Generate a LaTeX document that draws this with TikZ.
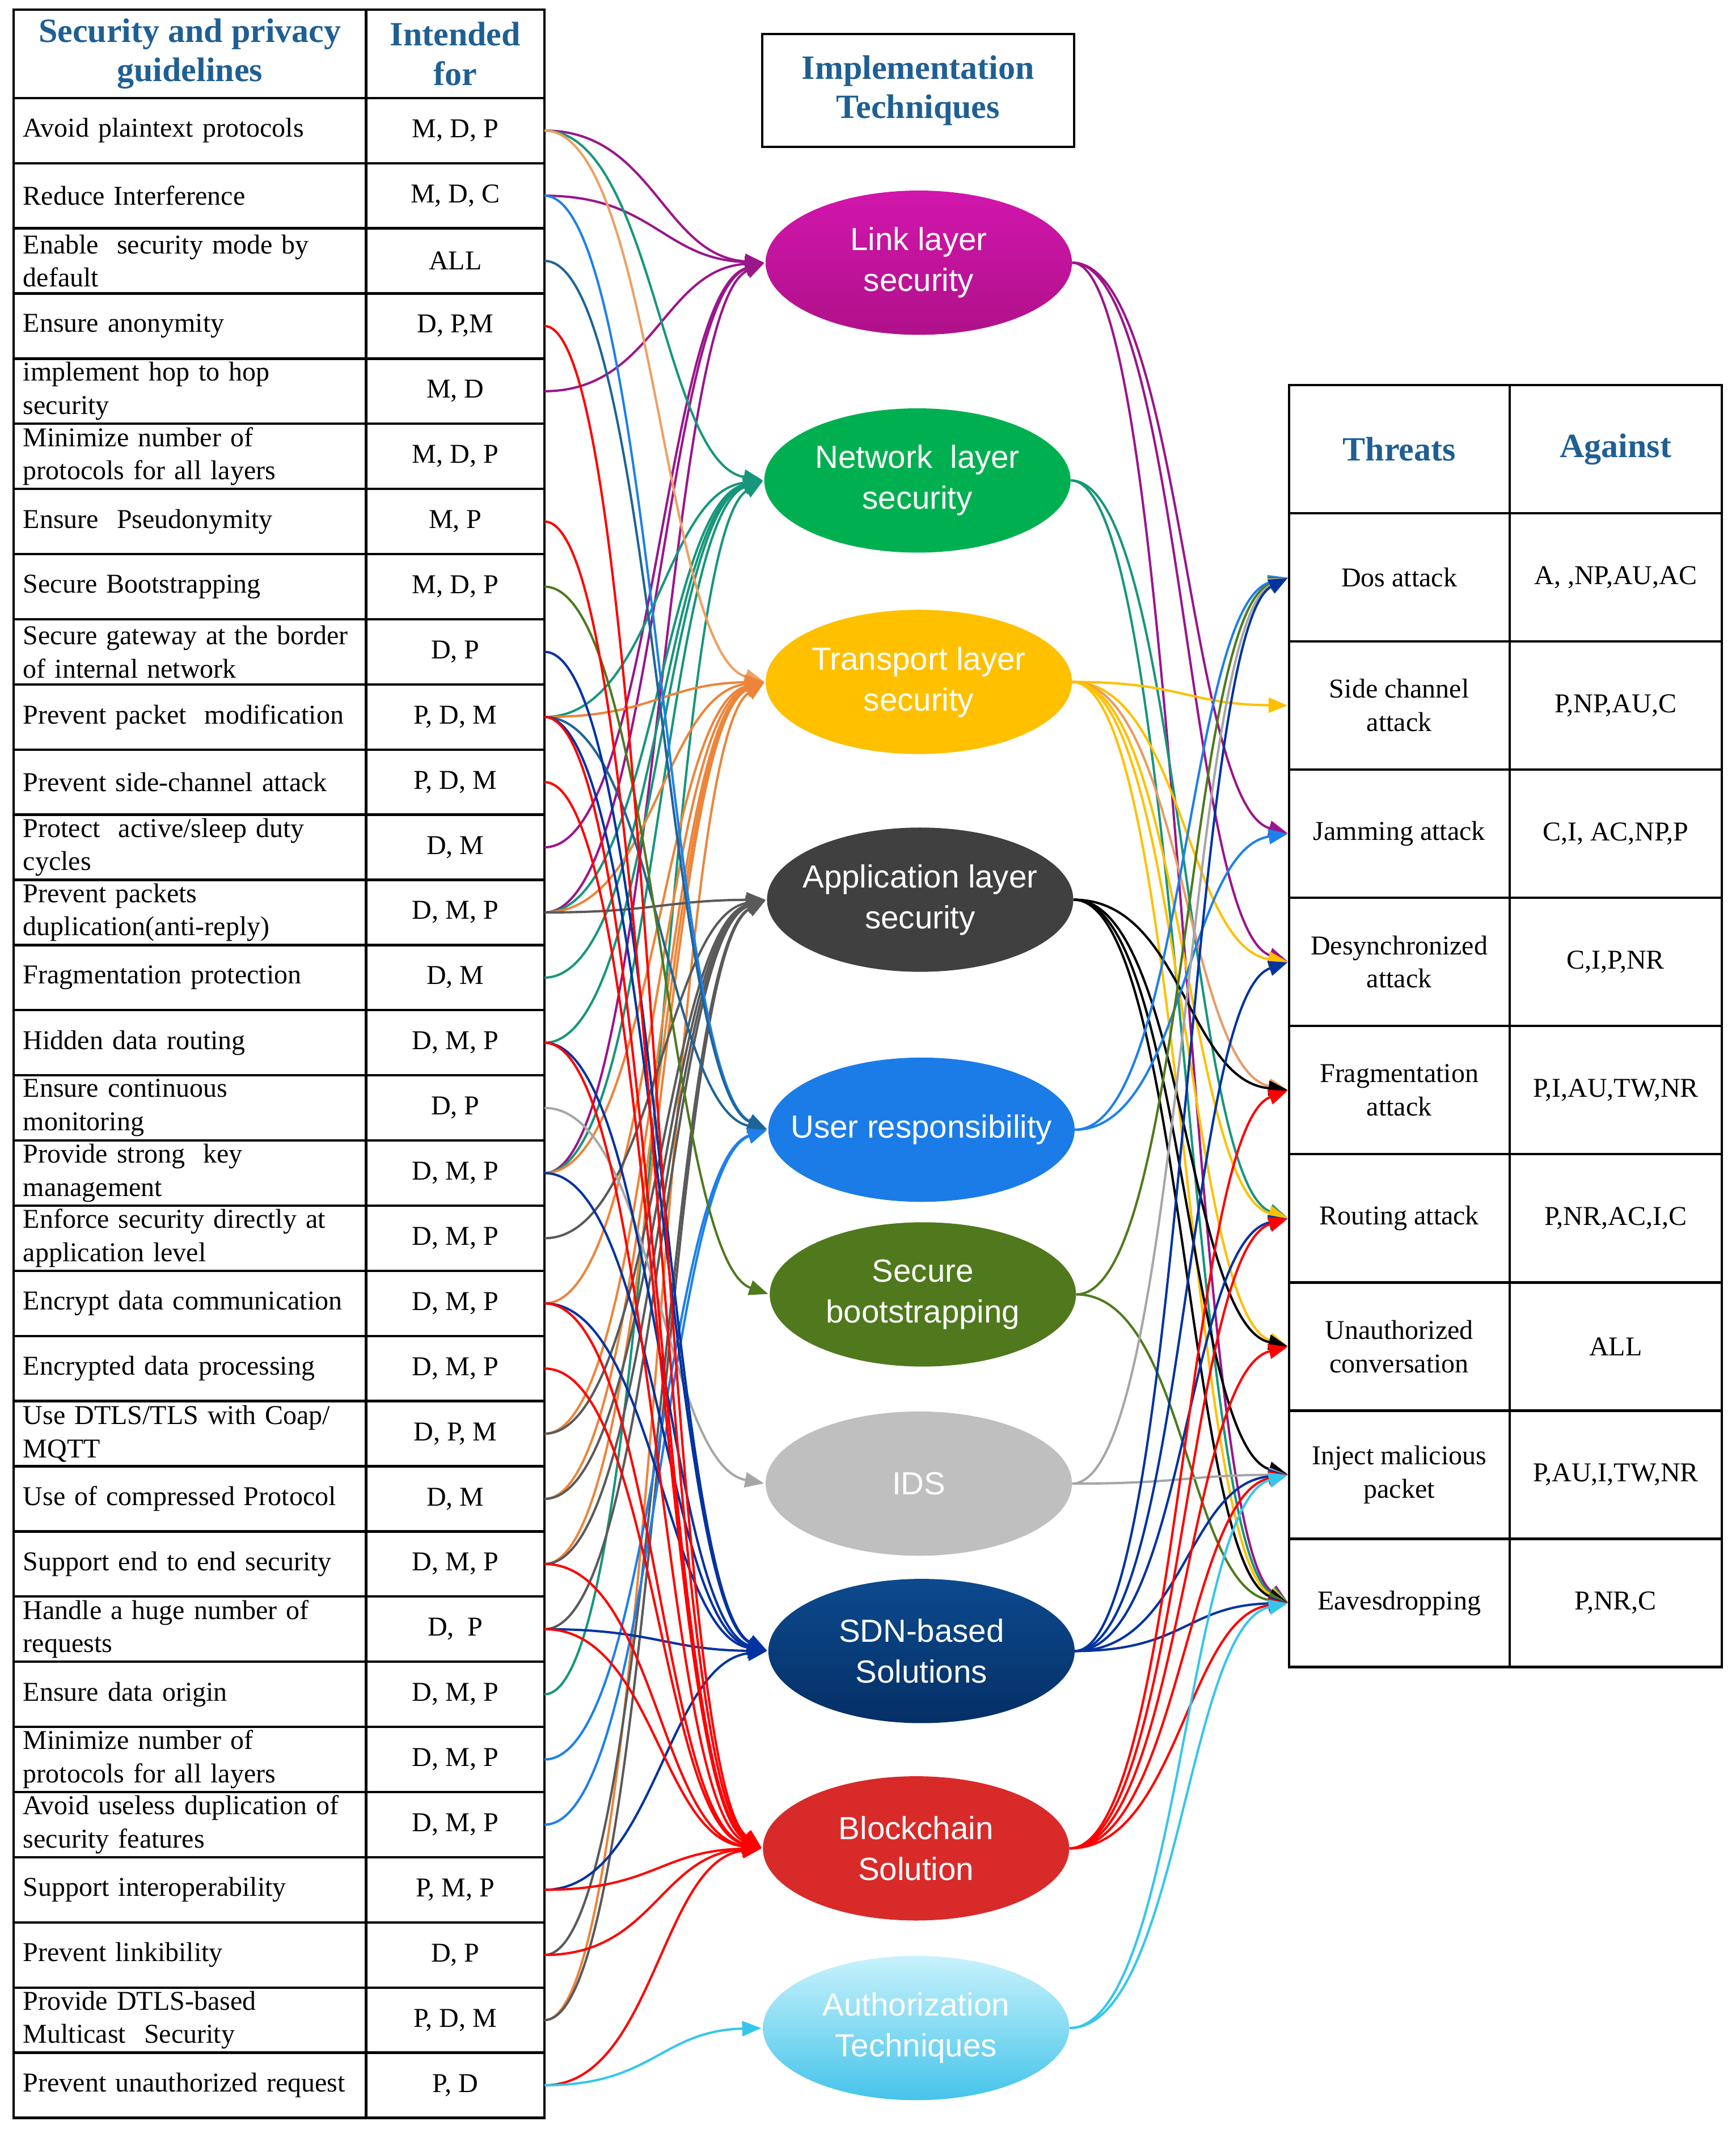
\documentclass[tikz,border=0pt]{standalone}
\usepackage{fontspec}
\setmainfont{Liberation Serif}
\newfontfamily\ovalfont{Liberation Sans}
\usetikzlibrary{positioning,shapes.geometric,arrows.meta,calc}

\definecolor{headblue}{HTML}{1F5F93}
% technique fills
\definecolor{linkfill}{HTML}{D116AC}
\definecolor{linkdark}{HTML}{B0118A}
\definecolor{netfill}{HTML}{00B050}
\definecolor{transfill}{HTML}{FFC000}
\definecolor{appfill}{HTML}{404040}
\definecolor{userfill}{HTML}{1B7CE8}
\definecolor{bootfill}{HTML}{4F791C}
\definecolor{idsfill}{HTML}{BFBFBF}
\definecolor{sdnfill}{HTML}{0C4A8E}
\definecolor{sdndark}{HTML}{052F66}
\definecolor{chainfill}{HTML}{D92A2A}
\definecolor{authzfill}{HTML}{C8F2FC}
\definecolor{authzdark}{HTML}{45C4EA}
% connector colours
\definecolor{linkline}{HTML}{9A168B}
\definecolor{netline}{HTML}{17967B}
\definecolor{transline}{HTML}{EC853A}
\definecolor{transpale}{HTML}{EE9F62}
\definecolor{appline}{HTML}{5A5A5A}
\definecolor{userline}{HTML}{1E80EA}
\definecolor{steelline}{HTML}{1F6496}
\definecolor{bootline}{HTML}{4F7A1E}
\definecolor{idsline}{HTML}{A6A6A6}
\definecolor{sdnline}{HTML}{0033A0}
\definecolor{chainline}{HTML}{FF0000}
\definecolor{authzline}{HTML}{36C6EC}
\definecolor{yellowline}{HTML}{FFC000}
\definecolor{salmonline}{HTML}{E99A66}

\tikzset{
  cell/.style={draw, rectangle, line width=1.8pt, outer sep=0pt, inner xsep=7pt, inner ysep=1pt,
    font=\fontsize{20}{24.5}\selectfont},
  head/.style={cell, align=center, text=headblue, font=\fontsize{25}{29}\selectfont\bfseries},
  guide/.style={cell, text width=245pt, minimum height=47.87pt, align=left},
  aim/.style={cell, minimum width=131pt, minimum height=47.87pt, align=center},
  threat/.style={cell, minimum width=162pt, minimum height=94.2pt, align=center},
  value/.style={cell, minimum width=156pt, minimum height=94.2pt, align=center},
  tech/.style={ellipse, minimum width=225pt, minimum height=106pt, inner xsep=-40pt, inner ysep=0pt,
    text=white, align=center, font=\ovalfont\fontsize{23.5}{30}\selectfont},
  wire/.style={line width=1.7pt, -{Triangle[length=14pt,width=11pt]}, shorten >=1pt,
    to path={let \p1=(\tikztostart), \p2=(\tikztotarget) in
      .. controls (\x1+80pt,\y1) and (\x2-75pt,{\y2+0.05*(\y1-\y2)}) .. (\tikztotarget)}},
}

\begin{document}
\begin{tikzpicture}[x=1pt, y=-1pt, node distance=0pt]
  \useasboundingbox (0,0) rectangle (1275,1570.8);

  % Guidelines table
  \node [head, minimum width=259pt, minimum height=65pt] (ghead) at (139.5,39.5) {Security and privacy\\guidelines};
  \node [head, minimum width=131pt, minimum height=65pt, right=of ghead] (fhead) {Intended\\for};
  \node [guide, below=of ghead] (g1) {Avoid plaintext protocols};
  \node [guide, below=of g1] (g2) {Reduce Interference};
  \node [guide, below=of g2] (g3) {Enable~ security mode by\\default};
  \node [guide, below=of g3] (g4) {Ensure anonymity};
  \node [guide, below=of g4] (g5) {implement hop to hop\\security};
  \node [guide, below=of g5] (g6) {Minimize number of\\protocols for all layers};
  \node [guide, below=of g6] (g7) {Ensure~ Pseudonymity};
  \node [guide, below=of g7] (g8) {Secure Bootstrapping};
  \node [guide, below=of g8] (g9) {Secure gateway at the border\\of internal network};
  \node [guide, below=of g9] (g10) {Prevent packet~ modification};
  \node [guide, below=of g10] (g11) {Prevent side-channel attack};
  \node [guide, below=of g11] (g12) {Protect~ active/sleep duty\\cycles};
  \node [guide, below=of g12] (g13) {Prevent packets\\duplication(anti-reply)};
  \node [guide, below=of g13] (g14) {Fragmentation protection};
  \node [guide, below=of g14] (g15) {Hidden data routing};
  \node [guide, below=of g15] (g16) {Ensure continuous\\monitoring};
  \node [guide, below=of g16] (g17) {Provide strong~ key\\management};
  \node [guide, below=of g17] (g18) {Enforce security directly at\\application level};
  \node [guide, below=of g18] (g19) {Encrypt data communication};
  \node [guide, below=of g19] (g20) {Encrypted data processing};
  \node [guide, below=of g20] (g21) {Use DTLS/TLS with Coap/\\MQTT};
  \node [guide, below=of g21] (g22) {Use of compressed Protocol};
  \node [guide, below=of g22] (g23) {Support end to end security};
  \node [guide, below=of g23] (g24) {Handle a huge number of\\requests};
  \node [guide, below=of g24] (g25) {Ensure data origin};
  \node [guide, below=of g25] (g26) {Minimize number of\\protocols for all layers};
  \node [guide, below=of g26] (g27) {Avoid useless duplication of\\security features};
  \node [guide, below=of g27] (g28) {Support interoperability};
  \node [guide, below=of g28] (g29) {Prevent linkibility};
  \node [guide, below=of g29] (g30) {Provide DTLS-based\\Multicast~ Security};
  \node [guide, below=of g30] (g31) {Prevent unauthorized request};

  \node [aim, right=of g1] (f1) {M, D, P};
  \node [aim, right=of g2] (f2) {M, D, C};
  \node [aim, right=of g3] (f3) {ALL};
  \node [aim, right=of g4] (f4) {D, P,M};
  \node [aim, right=of g5] (f5) {M, D};
  \node [aim, right=of g6] (f6) {M, D, P};
  \node [aim, right=of g7] (f7) {M, P};
  \node [aim, right=of g8] (f8) {M, D, P};
  \node [aim, right=of g9] (f9) {D, P};
  \node [aim, right=of g10] (f10) {P, D, M};
  \node [aim, right=of g11] (f11) {P, D, M};
  \node [aim, right=of g12] (f12) {D, M};
  \node [aim, right=of g13] (f13) {D, M, P};
  \node [aim, right=of g14] (f14) {D, M};
  \node [aim, right=of g15] (f15) {D, M, P};
  \node [aim, right=of g16] (f16) {D, P};
  \node [aim, right=of g17] (f17) {D, M, P};
  \node [aim, right=of g18] (f18) {D, M, P};
  \node [aim, right=of g19] (f19) {D, M, P};
  \node [aim, right=of g20] (f20) {D, M, P};
  \node [aim, right=of g21] (f21) {D, P, M};
  \node [aim, right=of g22] (f22) {D, M};
  \node [aim, right=of g23] (f23) {D, M, P};
  \node [aim, right=of g24] (f24) {D,~ P};
  \node [aim, right=of g25] (f25) {D, M, P};
  \node [aim, right=of g26] (f26) {D, M, P};
  \node [aim, right=of g27] (f27) {D, M, P};
  \node [aim, right=of g28] (f28) {P, M, P};
  \node [aim, right=of g29] (f29) {D, P};
  \node [aim, right=of g30] (f30) {P, D, M};
  \node [aim, right=of g31] (f31) {P, D};

  % Implementation techniques
  \node [head, minimum width=229pt, minimum height=83pt] (ihead) at (674.5,66.5) {Implementation\\Techniques};
  \node [tech, top color=linkfill, bottom color=linkdark] (link) at (675,193) {Link layer\\security};
  \node [tech, fill=netfill] (network) at (674,353) {Network\ \ layer\\security};
  \node [tech, fill=transfill] (transport) at (675,501) {Transport layer\\security};
  \node [tech, fill=appfill] (app) at (676,661) {Application layer\\security};
  \node [tech, fill=userfill] (user) at (677,830) {User responsibility};
  \node [tech, fill=bootfill] (boot) at (678,951) {Secure\\bootstrapping};
  \node [tech, fill=idsfill] (ids) at (675,1090) {IDS};
  \node [tech, top color=sdnfill, bottom color=sdndark] (sdn) at (677,1213) {SDN-based\\Solutions};
  \node [tech, fill=chainfill] (chain) at (673,1358) {Blockchain\\Solution};
  \node [tech, top color=authzfill, bottom color=authzdark] (authz) at (673,1490) {Authorization\\Techniques};

  % Threats table
  \node [head, minimum width=162pt, minimum height=94pt] (thead) at (1028,330) {Threats};
  \node [head, minimum width=156pt, minimum height=94pt, right=of thead] (ahead) {Against};
  \node [threat, below=of thead] (dos) {Dos attack};
  \node [threat, below=of dos] (side) {Side channel\\attack};
  \node [threat, below=of side] (jam) {Jamming attack};
  \node [threat, below=of jam] (desync) {Desynchronized\\attack};
  \node [threat, below=of desync] (frag) {Fragmentation\\attack};
  \node [threat, below=of frag] (routing) {Routing attack};
  \node [threat, below=of routing] (unauth) {Unauthorized\\conversation};
  \node [threat, below=of unauth] (inject) {Inject malicious\\packet};
  \node [threat, below=of inject] (eaves) {Eavesdropping};
  \node [value, right=of dos] (vdos) {A, ,NP,AU,AC};
  \node [value, right=of side] (vside) {P,NP,AU,C};
  \node [value, right=of jam] (vjam) {C,I, AC,NP,P};
  \node [value, right=of desync] (vdesync) {C,I,P,NR};
  \node [value, right=of frag] (vfrag) {P,I,AU,TW,NR};
  \node [value, right=of routing] (vrouting) {P,NR,AC,I,C};
  \node [value, right=of unauth] (vunauth) {ALL};
  \node [value, right=of inject] (vinject) {P,AU,I,TW,NR};
  \node [value, right=of eaves] (veaves) {P,NR,C};

  % Arrows into Link layer security
  \draw [wire, linkline] (f1.east) to (link.west);
  \draw [wire, linkline] (f2.east) to (link.west);
  \draw [wire, linkline] (f5.east) to (link.west);
  \draw [wire, linkline] (f12.east) to (link.west);
  \draw [wire, linkline] (f13.east) to (link.west);
  \draw [wire, linkline] (f17.east) to (link.west);

  % Arrows into Network layer security
  \draw [wire, netline] (f1.east) to (network.west);
  \draw [wire, netline] (f10.east) to (network.west);
  \draw [wire, netline] (f13.east) to (network.west);
  \draw [wire, netline] (f14.east) to (network.west);
  \draw [wire, netline] (f15.east) to (network.west);
  \draw [wire, netline] (f17.east) to (network.west);
  \draw [wire, netline] (f25.east) to (network.west);

  % Arrows into Transport layer security
  \draw [wire, transpale] (f1.east) to (transport.west);
  \draw [wire, transline] (f10.east) to (transport.west);
  \draw [wire, transline] (f13.east) to (transport.west);
  \draw [wire, transline] (f17.east) to (transport.west);
  \draw [wire, transline] (f19.east) to (transport.west);
  \draw [wire, transline] (f21.east) to (transport.west);
  \draw [wire, transline] (f22.east) to (transport.west);
  \draw [wire, transline] (f23.east) to (transport.west);
  \draw [wire, transline] (f30.east) to (transport.west);

  % Arrows into Application layer security
  \draw [wire, appline] (f13.east) to (app.west);
  \draw [wire, appline] (f18.east) to (app.west);
  \draw [wire, appline] (f21.east) to (app.west);
  \draw [wire, appline] (f22.east) to (app.west);
  \draw [wire, appline] (f23.east) to (app.west);
  \draw [wire, appline] (f24.east) to (app.west);
  \draw [wire, appline] (f29.east) to (app.west);
  \draw [wire, appline] (f30.east) to (app.west);

  % Arrows into User responsibility
  \draw [wire, userline] (f2.east) to (user.west);
  \draw [wire, steelline] (f3.east) to (user.west);
  \draw [wire, steelline] (f10.east) to (user.west);
  \draw [wire, userline] (f26.east) to (user.west);
  \draw [wire, userline] (f27.east) to (user.west);

  % Arrows into Secure bootstrapping and IDS
  \draw [wire, bootline] (f8.east) to (boot.west);
  \draw [wire, idsline] (f16.east) to (ids.west);

  % Arrows into SDN-based Solutions
  \draw [wire, sdnline] (f9.east) to (sdn.west);
  \draw [wire, sdnline] (f10.east) to (sdn.west);
  \draw [wire, sdnline] (f15.east) to (sdn.west);
  \draw [wire, sdnline] (f17.east) to (sdn.west);
  \draw [wire, sdnline] (f19.east) to (sdn.west);
  \draw [wire, sdnline] (f24.east) to (sdn.west);
  \draw [wire, sdnline] (f28.east) to (sdn.west);

  % Arrows into Blockchain Solution
  \draw [wire, chainline] (f4.east) to (chain.west);
  \draw [wire, chainline] (f7.east) to (chain.west);
  \draw [wire, chainline] (f10.east) to (chain.west);
  \draw [wire, chainline] (f11.east) to (chain.west);
  \draw [wire, chainline] (f15.east) to (chain.west);
  \draw [wire, chainline] (f19.east) to (chain.west);
  \draw [wire, chainline] (f20.east) to (chain.west);
  \draw [wire, chainline] (f23.east) to (chain.west);
  \draw [wire, chainline] (f24.east) to (chain.west);
  \draw [wire, chainline] (f28.east) to (chain.west);
  \draw [wire, chainline] (f29.east) to (chain.west);
  \draw [wire, chainline] (f31.east) to (chain.west);

  % Arrows into Authorization Techniques
  \draw [wire, authzline] (f31.east) to (authz.west);

  % Arrows towards the threats
  \draw [wire, linkline] (link.east) to (jam.west);
  \draw [wire, linkline] (link.east) to (desync.west);
  \draw [wire, linkline] (link.east) to (eaves.west);
  \draw [wire, netline] (network.east) to (routing.west);
  \draw [wire, netline] (network.east) to (eaves.west);
  \draw [wire, yellowline] (transport.east) to (side.west);
  \draw [wire, yellowline] (transport.east) to (desync.west);
  \draw [wire, salmonline] (transport.east) to (frag.west);
  \draw [wire, yellowline] (transport.east) to (routing.west);
  \draw [wire, yellowline] (transport.east) to (unauth.west);
  \draw [wire, yellowline] (transport.east) to (eaves.west);
  \draw [wire, black] (app.east) to (frag.west);
  \draw [wire, black] (app.east) to (unauth.west);
  \draw [wire, black] (app.east) to (inject.west);
  \draw [wire, black] (app.east) to (eaves.west);
  \draw [wire, userline] (user.east) to (dos.west);
  \draw [wire, userline] (user.east) to (jam.west);
  \draw [wire, bootline] (boot.east) to (dos.west);
  \draw [wire, bootline] (boot.east) to (eaves.west);
  \draw [wire, idsline] (ids.east) to (dos.west);
  \draw [wire, idsline] (ids.east) to (inject.west);
  \draw [wire, sdnline] (sdn.east) to (dos.west);
  \draw [wire, sdnline] (sdn.east) to (desync.west);
  \draw [wire, sdnline] (sdn.east) to (routing.west);
  \draw [wire, sdnline] (sdn.east) to (inject.west);
  \draw [wire, sdnline] (sdn.east) to (eaves.west);
  \draw [wire, chainline] (chain.east) to (frag.west);
  \draw [wire, chainline] (chain.east) to (routing.west);
  \draw [wire, chainline] (chain.east) to (unauth.west);
  \draw [wire, chainline] (chain.east) to (inject.west);
  \draw [wire, chainline] (chain.east) to (eaves.west);
  \draw [wire, authzline] (authz.east) to (inject.west);
  \draw [wire, authzline] (authz.east) to (eaves.west);
\end{tikzpicture}
\end{document}
